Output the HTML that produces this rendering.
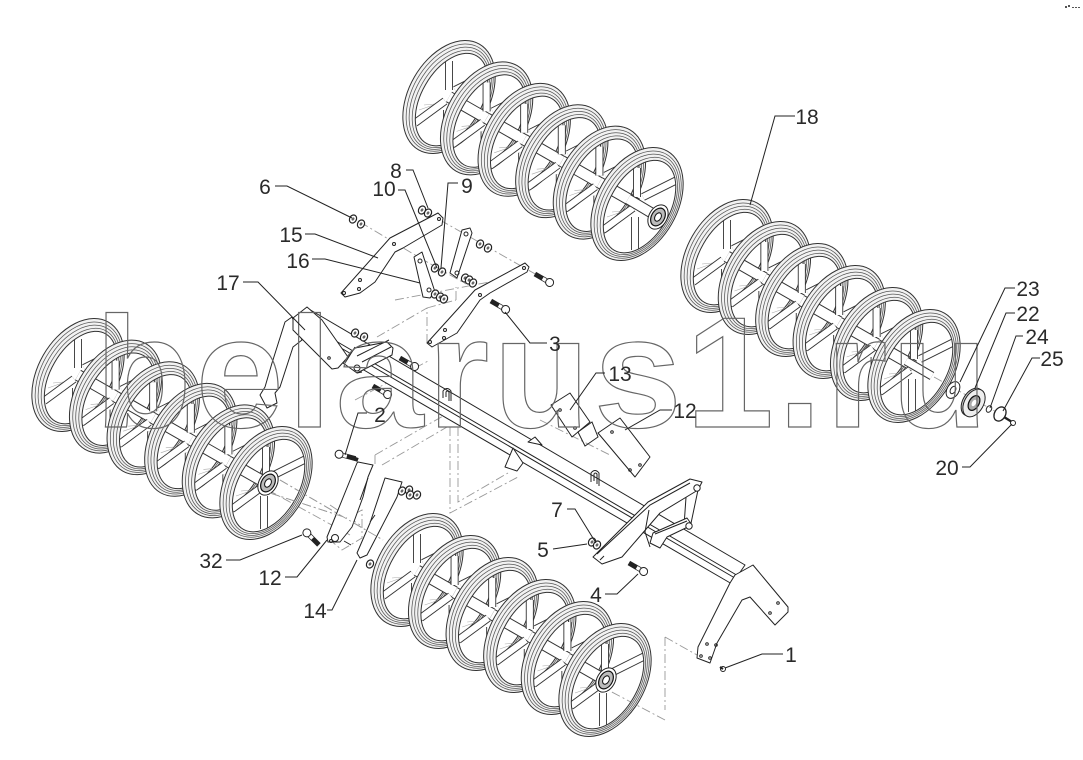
<!DOCTYPE html>
<html><head><meta charset="utf-8"><style>
html,body{margin:0;padding:0;background:#fff}
svg{display:block}
.t{font-family:"Liberation Sans",sans-serif;font-size:21px;fill:#2a2a2a;text-anchor:middle}
.p{fill:#fff;stroke:#222;stroke-width:1;stroke-linejoin:round}
.l{fill:none;stroke:#222;stroke-width:1}
.d{fill:none;stroke:#999;stroke-width:.9;stroke-dasharray:9 3 2 3}
</style></head><body>
<svg width="1083" height="760" viewBox="0 0 1083 760" xmlns="http://www.w3.org/2000/svg">
<defs>
<g id="a"><line x1="-37.6" y1="-21.5" x2="0" y2="0" stroke="#333" stroke-width="12"/><line x1="-37.6" y1="-21.5" x2="0" y2="0" stroke="#fff" stroke-width="10"/></g>
<g id="w">
<g stroke="#aaa" stroke-width=".6"><line x1="-4" y1="4" x2="-30" y2="13"/><line x1="-4" y1="5" x2="-28" y2="18"/><line x1="-3" y1="6" x2="-25" y2="8"/></g>
<g stroke="#333" stroke-width="8" stroke-linecap="butt"><line x1="6" y1="-7" x2="40" y2="-24"/><line x1="-4" y1="4" x2="-34" y2="26"/><line x1="-2" y1="13" x2="-2" y2="46"/><line x1="0" y1="-36" x2="0" y2="-7"/></g>
<g stroke="#fff" stroke-width="6.2"><line x1="6" y1="-7" x2="40" y2="-24"/><line x1="-4" y1="4" x2="-34" y2="26"/><line x1="-2" y1="13" x2="-2" y2="46"/><line x1="0" y1="-36" x2="0" y2="-7"/></g>
<g transform="rotate(30)">
<path fill-rule="evenodd" fill="#f2f2f2" stroke="#333" stroke-width="1" d="M-40 0a40 61 0 1 0 80 0a40 61 0 1 0 -80 0zM-26.5 1a30 50.5 0 1 0 60 0a30 50.5 0 1 0 -60 0z"/>
<g fill="none" stroke="#555" stroke-width=".75">
<ellipse cx=".9" cy=".2" rx="37.5" ry="58"/>
<ellipse cx="1.7" cy=".5" rx="35" ry="55.5"/>
<ellipse cx="2.6" cy=".8" rx="32.5" ry="53"/>
</g></g></g>
<g id="h"><g transform="rotate(30)"><ellipse rx="9" ry="13" fill="#fff" stroke="#222"/><ellipse rx="6.5" ry="9.5" fill="#bbb" stroke="#111" stroke-width="1.2"/><ellipse rx="3" ry="4.5" fill="#fff" stroke="#111"/></g></g>
<g id="b"><g transform="rotate(30)"><line x1="-14" y1="0" x2="0" y2="0" stroke="#222" stroke-width="5"/><line x1="-5" y1="0" x2="0" y2="0" stroke="#fff" stroke-width="3.5"/><circle cx="3" r="4" fill="#fff" stroke="#222"/></g></g>
<g id="n"><g transform="rotate(30)"><ellipse rx="3.4" ry="4.2" fill="#fff" stroke="#222" stroke-width="1.2"/><ellipse rx="1.3" ry="1.7" fill="#666"/></g></g>
</defs>
<rect width="1083" height="760" fill="#fff"/>

<!-- dash-dot construction lines -->
<path class="d" d="M360 222L420 258M440 220L537 275M420 258L466 284M427 343L427 308M427 308L456 300M456 300V287M377 337L427 308M375 455L457 408M382 465L447 427M375 455V467M450 427V513L518 477M458 427V502L508 473M270 493L347 518M280 480L383 540M268 490L350 535M340 522L362 510V538L342 550L330 540M665 637V710M665 637L697 655M665 720L608 690M330 505L360 525M395 300L500 280M355 400L430 360M540 420L610 455"/>

<!-- top wheels -->
<use href="#w" x="449" y="97"/>
<use href="#a" x="486.6" y="118.4"/><use href="#w" x="486.6" y="118.4"/>
<use href="#a" x="524.2" y="139.8"/><use href="#w" x="524.2" y="139.8"/>
<use href="#a" x="561.8" y="161.2"/><use href="#w" x="561.8" y="161.2"/>
<use href="#a" x="599.4" y="182.6"/><use href="#w" x="599.4" y="182.6"/>
<use href="#a" x="637" y="204"/><use href="#w" x="637" y="204"/>
<line x1="628" y1="199" x2="655" y2="215" stroke="#333" stroke-width="11"/><line x1="628" y1="199" x2="655" y2="215" stroke="#fff" stroke-width="9"/>
<use href="#h" x="658" y="217"/>

<!-- right wheels -->
<use href="#w" x="727" y="256"/>
<use href="#a" x="764.4" y="278"/><use href="#w" x="764.4" y="278"/>
<use href="#a" x="801.8" y="300"/><use href="#w" x="801.8" y="300"/>
<use href="#a" x="839.2" y="322"/><use href="#w" x="839.2" y="322"/>
<use href="#a" x="876.6" y="344"/><use href="#w" x="876.6" y="344"/>
<use href="#a" x="914" y="366"/><use href="#w" x="914" y="366"/>
<line x1="906" y1="361" x2="932" y2="376" stroke="#333" stroke-width="9"/><line x1="906" y1="361" x2="932" y2="376" stroke="#fff" stroke-width="7"/>
<line x1="934" y1="377" x2="1000" y2="414" class="d"/>
<g transform="translate(953,390) rotate(30)"><ellipse rx="6" ry="9" fill="#fff" stroke="#222"/><ellipse rx="2.5" ry="4" fill="#fff" stroke="#222"/></g>
<g transform="translate(974,403) rotate(30)"><ellipse cx="-2" rx="9.5" ry="15" fill="#ccc" stroke="#222"/><ellipse rx="9.5" ry="15" fill="#eee" stroke="#222"/><ellipse rx="5" ry="8" fill="#aaa" stroke="#111" stroke-width="1.2"/><ellipse rx="2" ry="3.5" fill="#fff"/></g>
<g transform="translate(989,409) rotate(30)"><ellipse rx="2.5" ry="3.5" fill="#fff" stroke="#222"/></g>
<g transform="translate(1000,414) rotate(30)"><ellipse rx="5.5" ry="7.5" fill="#fff" stroke="#222" stroke-width="1.3"/></g>
<line x1="1004" y1="417" x2="1012" y2="422" stroke="#222" stroke-width="2.4"/><circle cx="1013" cy="423" r="2.5" fill="#fff" stroke="#222"/>

<!-- left wheels -->
<use href="#w" x="78" y="375"/>
<use href="#a" x="115.6" y="396.6"/><use href="#w" x="115.6" y="396.6"/>
<use href="#a" x="153.2" y="418.2"/><use href="#w" x="153.2" y="418.2"/>
<use href="#a" x="190.8" y="439.8"/><use href="#w" x="190.8" y="439.8"/>
<use href="#a" x="228.4" y="461.4"/><use href="#w" x="228.4" y="461.4"/>
<use href="#a" x="266" y="483"/><use href="#w" x="266" y="483"/>
<use href="#h" x="268" y="483"/>

<!-- bottom wheels -->
<use href="#w" x="417" y="570"/>
<use href="#a" x="454.6" y="592"/><use href="#w" x="454.6" y="592"/>
<use href="#a" x="492.2" y="614"/><use href="#w" x="492.2" y="614"/>
<use href="#a" x="529.8" y="636"/><use href="#w" x="529.8" y="636"/>
<use href="#a" x="567.4" y="658"/><use href="#w" x="567.4" y="658"/>
<use href="#a" x="605" y="680"/><use href="#w" x="605" y="680"/>
<use href="#h" x="606" y="680"/>

<!-- left arm -->
<path class="p" d="M292 317L285 322L272 363L265 387L260 395L267 408L277 403L275 393L280 387L293 347L302 340Z"/>
<!-- main beam -->
<path class="p" d="M307 308L745 565L732 584L338 355Z"/>
<path class="l" d="M300 320L740 577M300 324L740 581" stroke-width=".7"/>
<path class="p" d="M293 318L307 307L322 320L348 357L338 368L332 369L293 330Z"/>
<circle cx="329" cy="358" r="1.3" class="l"/>
<!-- mid clamp -->
<path class="p" d="M343 363L355 348L387 342L393 348L392 355L363 370L357 373Z"/>
<path class="l" d="M357 356L389 340M362 362L391 347M355 347L345 363M357 373L362 372"/>
<circle cx="357" cy="368" r="3" class="p"/>
<!-- u-bolts -->
<path class="l" d="M443 398V391Q447 386 451 391V401M446 397V392Q447 390 449 392V401" stroke-width="1.1"/>
<path class="l" d="M591 482V473Q595 468 599 473V486M594 481V474Q595 472 597 474V484" stroke-width="1.1"/>
<!-- mount on beam -->
<path class="p" d="M505 467L513 448L523 463L517 471Z"/>
<path class="p" d="M528 442L535 437L542 445Z"/>
<!-- plates 13, 12 -->
<path class="p" d="M551 405L570 393L590 422L572 437Z"/>
<path class="p" d="M598 433L620 418L650 457L635 477Z"/>
<circle cx="640" cy="465" r="1.3" class="l"/><circle cx="630" cy="470" r="1.3" class="l"/><circle cx="612" cy="432" r="1.3" class="l"/><circle cx="560" cy="410" r="1.3" class="l"/><circle cx="575" cy="428" r="1.3" class="l"/>
<path class="l" d="M578 432L592 422L598 437L585 446Z"/>
<!-- right bracket -->
<path class="p" d="M687 483L698 490L690 528L684 526Z"/>
<path class="p" d="M593 557L648 502L690 479L702 482L698 490L660 513L622 557L602 564Z"/>
<path class="l" d="M597 554L650 505L690 483M600 560L604 556"/>
<path class="p" d="M650 543L653 533L687 518L692 525L667 537L660 548Z"/>
<path class="l" d="M649 510L645 532L650 547M655 534L687 521"/>
<circle cx="689" cy="526" r="3.2" class="p"/><circle cx="697" cy="488" r="3.2" class="p"/>
<!-- end plate -->
<path class="p" d="M735 575L753 565L788 607L788 612L775 625L750 597L742 600L717 643L710 663L697 658L698 647L730 583Z"/>
<circle cx="778" cy="603" r="1.3" class="l"/><circle cx="770" cy="613" r="1.3" class="l"/><circle cx="707" cy="644" r="1.3" class="l"/><circle cx="716" cy="645" r="1.3" class="l"/><circle cx="701" cy="656" r="1.3" class="l"/><circle cx="710" cy="658" r="1.3" class="l"/>
<!-- upper plates -->
<path class="p" d="M341 293L390 238L438 213L443 218L442 225L403 248L395 252L375 282L360 293L345 297Z"/>
<circle cx="344" cy="293" r="1.5" class="l"/><circle cx="360" cy="280" r="1.5" class="l"/><circle cx="359" cy="289" r="1.5" class="l"/><circle cx="394" cy="244" r="1.5" class="l"/><circle cx="439" cy="219" r="1.5" class="l"/>
<path class="p" d="M427 343L475 290L525 263L529 267L527 272L490 293L480 300L457 333L432 347Z"/>
<circle cx="430" cy="342" r="1.5" class="l"/><circle cx="445" cy="330" r="1.5" class="l"/><circle cx="444" cy="338" r="1.5" class="l"/><circle cx="480" cy="295" r="1.5" class="l"/><circle cx="524" cy="268" r="1.5" class="l"/>
<path class="p" d="M414 257L422 252L435 292L430 298L423 297Z"/>
<circle cx="420" cy="261" r="2" class="l"/><circle cx="429" cy="290" r="2" class="l"/>
<path class="p" d="M462 230L470 228L472 233L457 278L450 273Z"/>
<circle cx="466" cy="234" r="2" class="l"/><circle cx="457" cy="273" r="2" class="l"/>
<!-- lower plates -->
<path class="p" d="M327 537L338 510L357 463L358 462L373 465L368 477L363 497L352 527L340 542L328 542Z"/>
<path class="p" d="M357 553L370 523L385 478L402 482L397 497L380 530L367 555L360 558Z"/>
<path class="l" d="M368 478L360 500M370 522L375 515"/>
<path class="d" d="M270 493L347 518M280 480L383 540"/>
<circle cx="335" cy="538" r="3.5" class="p"/>
<circle cx="331" cy="541" r="1.5" class="l"/>
<!-- bolts -->
<use href="#b" x="503" y="308"/>
<use href="#b" x="547" y="281"/>
<use href="#b" x="385" y="393"/>
<use href="#b" x="412" y="365"/>
<use href="#b" x="641" y="570"/>
<g transform="translate(340,455)"><use href="#b" transform="rotate(180) translate(-2 0) rotate(-15)"/></g>
<g transform="translate(309,535)"><use href="#b" transform="rotate(195)"/></g>
<line x1="350" y1="457" x2="358" y2="460" stroke="#222" stroke-width="4"/>
<path class="l" d="M344 541L351 545" stroke-width="3"/>
<g transform="translate(723,669)"><circle r="2.5" class="p"/><line x1="-3" y1="-2" x2="0" y2="0" stroke="#222" stroke-width="2"/></g>
<!-- nuts -->
<use href="#n" x="353" y="219"/><use href="#n" x="361" y="224"/>
<use href="#n" x="422" y="210"/><use href="#n" x="428" y="213"/>
<use href="#n" x="435" y="268"/><use href="#n" x="442" y="272"/>
<use href="#n" x="480" y="244"/><use href="#n" x="488" y="248"/>
<use href="#n" x="435" y="294"/><use href="#n" x="440" y="297"/><use href="#n" x="444" y="299"/>
<use href="#n" x="465" y="278"/><use href="#n" x="469" y="280"/><use href="#n" x="473" y="283"/>
<use href="#n" x="355" y="333"/><use href="#n" x="364" y="337"/>
<use href="#n" x="402" y="491"/><use href="#n" x="409" y="490"/><use href="#n" x="410" y="495"/><use href="#n" x="417" y="495"/>
<use href="#n" x="592" y="542"/><use href="#n" x="597" y="545"/>
<use href="#n" x="370" y="564"/>

<!-- watermark -->
<text x="95" y="427" font-family="'Liberation Sans',sans-serif" font-weight="bold" font-size="158" fill="none" stroke="#666" stroke-width="1.2" textLength="893" lengthAdjust="spacing">belarus1.ru</text>

<!-- leaders -->
<g>
<path class="l" d="M795 116H775L750 205"/>
<path class="l" d="M275 186H287L352 218"/>
<path class="l" d="M406 170H413L428 208"/>
<path class="l" d="M398 190H405L437 268"/>
<path class="l" d="M458 183H448L441 268"/>
<path class="l" d="M305 234H315L378 258"/>
<path class="l" d="M312 259H325L420 283"/>
<path class="l" d="M243 282H258L305 330"/>
<path class="l" d="M547 343H530L505 312"/>
<path class="l" d="M367 413H358L345 455"/>
<path class="l" d="M605 373H596L570 410"/>
<path class="l" d="M672 410H660L625 430"/>
<path class="l" d="M1015 288H1005L960 382"/>
<path class="l" d="M1015 313H1006L975 388"/>
<path class="l" d="M1023 336H1016L990 408"/>
<path class="l" d="M1040 358H1032L1003 411"/>
<path class="l" d="M962 467H970L1012 424"/>
<path class="l" d="M567 509H575L596 543"/>
<path class="l" d="M553 549L587 544"/>
<path class="l" d="M605 594H617L638 574"/>
<path class="l" d="M783 654H762L725 668"/>
<path class="l" d="M226 560H240L302 535"/>
<path class="l" d="M285 577H297L327 540"/>
<path class="l" d="M327 610H332L357 560"/>
</g>
<!-- labels -->
<text class="t" x="807" y="124">18</text>
<text class="t" x="265" y="194">6</text>
<text class="t" x="396" y="178">8</text>
<text class="t" x="384" y="196">10</text>
<text class="t" x="467" y="193">9</text>
<text class="t" x="291" y="242">15</text>
<text class="t" x="298" y="268">16</text>
<text class="t" x="228" y="290">17</text>
<text class="t" x="555" y="351">3</text>
<text class="t" x="380" y="422">2</text>
<text class="t" x="620" y="381">13</text>
<text class="t" x="685" y="418">12</text>
<text class="t" x="1028" y="296">23</text>
<text class="t" x="1028" y="321">22</text>
<text class="t" x="1037" y="344">24</text>
<text class="t" x="1052" y="366">25</text>
<text class="t" x="947" y="475">20</text>
<text class="t" x="557" y="517">7</text>
<text class="t" x="543" y="557">5</text>
<text class="t" x="596" y="602">4</text>
<text class="t" x="791" y="662">1</text>
<text class="t" x="211" y="568">32</text>
<text class="t" x="270" y="585">12</text>
<text class="t" x="315" y="618">14</text>
<!-- corner specks -->
<g fill="#555"><rect x="1065" y="6" width="2" height="2"/><rect x="1068" y="5" width="2" height="2"/><rect x="1072" y="7" width="2" height="1"/><rect x="1075" y="7" width="2" height="1"/><rect x="1078" y="7" width="2" height="1"/></g>
</svg>
</body></html>
